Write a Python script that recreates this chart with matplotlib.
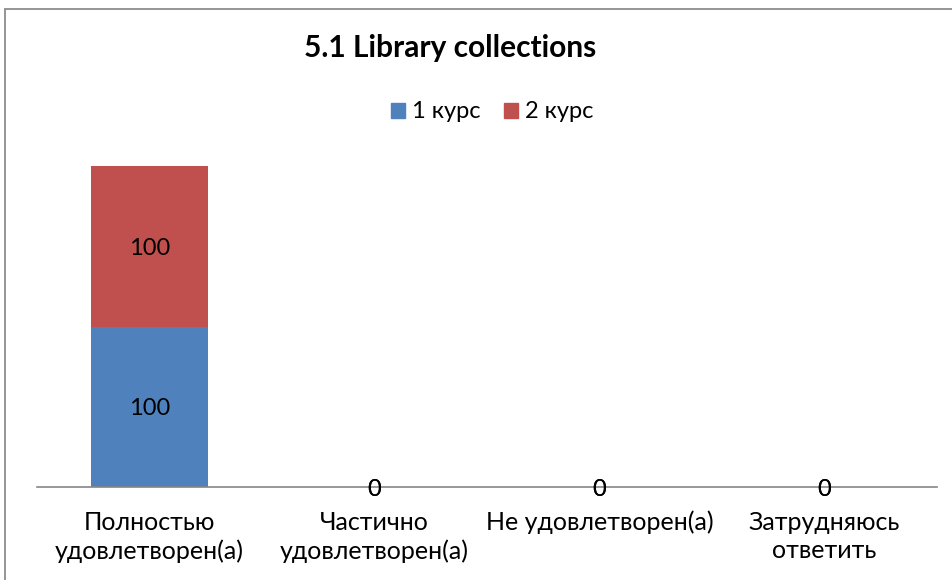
import matplotlib
matplotlib.use("Agg")
import matplotlib.pyplot as plt
from matplotlib.patches import Rectangle, Patch

categories = ["Полностью\nудовлетворен(а)", "Частично\nудовлетворен(а)",
              "Не удовлетворен(а)", "Затрудняюсь\nответить"]
series_names = ["1 курс", "2 курс"]
course1 = [100, 0, 0, 0]
course2 = [100, 0, 0, 0]
colors = ["#4F81BD", "#C0504D"]
title = "5.1 Library collections"

plt.rcParams['font.family'] = ['Lato', 'DejaVu Sans']

W, H = 953, 580
fig = plt.figure(figsize=(W / 100, H / 100), dpi=100)

# outer chart border
fig.patches.append(Rectangle((4.5 / W, -0.1), 2.0, (H - 9.5) / H + 0.1,
                             transform=fig.transFigure, fill=False,
                             edgecolor="#8c8c8c", linewidth=1.3))

ax = fig.add_axes([37 / W, (H - 487) / H, 900 / W, 357 / H])
x = list(range(len(categories)))
bw = 0.516
b1 = ax.bar(x, course1, width=bw, color=colors[0], label=series_names[0], zorder=2)
b2 = ax.bar(x, course2, width=bw, bottom=course1, color=colors[1], label=series_names[1], zorder=2)

for bars, vals, bottoms in ((b1, course1, [0] * 4), (b2, course2, course1)):
    for xi, v, b in zip(x, vals, bottoms):
        ax.text(xi, b + v / 2, f"{v}", ha="center", va="center_baseline",
                fontsize=17, color="black", zorder=3)

ax.set_xlim(-0.5, len(categories) - 0.5)
ax.set_ylim(0, 200 * 357 / 321)
for s in ("top", "right", "left"):
    ax.spines[s].set_visible(False)
ax.spines["bottom"].set_color("#868686")
ax.spines["bottom"].set_linewidth(1.2)
ax.set_yticks([])
ax.set_xticks(x)
ax.set_xticklabels(categories, fontsize=18, linespacing=1.3)
ax.tick_params(axis="x", length=0, pad=17)

fig.text(450 / W, 1 - 48 / H, title, ha="center", va="center",
         fontsize=21.5, fontweight="bold")

handles = [Patch(color=c) for c in colors]
fig.legend(handles, series_names, loc="center", bbox_to_anchor=(492 / W, 1 - 112 / H),
           ncol=2, frameon=False, fontsize=17, handlelength=0.6, handleheight=0.6,
           handletextpad=0.3, columnspacing=1.0)

fig.savefig("out.png", dpi=100)
